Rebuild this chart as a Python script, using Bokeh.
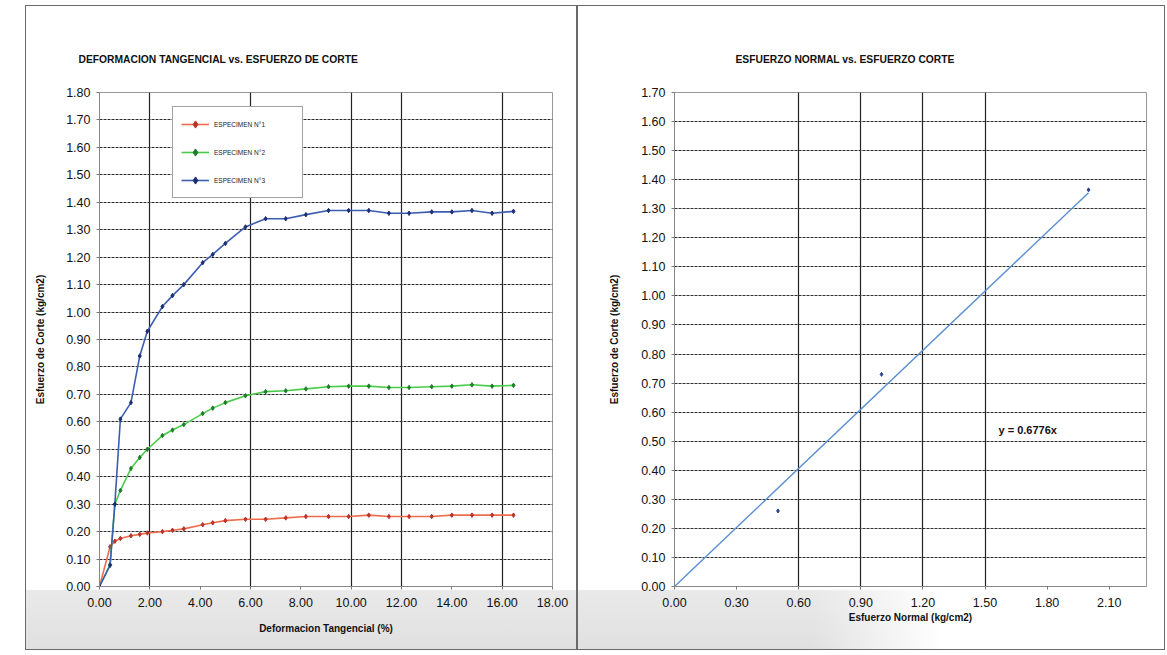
from bokeh.plotting import figure
from bokeh.layouts import row, column
from bokeh.models import (NumeralTickFormatter, FixedTicker, Legend, LegendItem,
                          Label, Spacer, Range1d)
from bokeh.embed import file_html
from bokeh.resources import INLINE

# ---------------- data ----------------
deform = [0, 0.42, 0.61, 0.83, 1.25, 1.6, 1.9, 2.5, 2.9, 3.35, 4.1, 4.5, 5.0, 5.8,
          6.6, 7.4, 8.2, 9.1, 9.9, 10.7, 11.5, 12.3, 13.2, 14.0, 14.8, 15.6, 16.45]
esp1 = [0, 0.145, 0.165, 0.175, 0.185, 0.19, 0.195, 0.20, 0.205, 0.21, 0.225, 0.232,
        0.24, 0.245, 0.245, 0.25, 0.255, 0.255, 0.255, 0.26, 0.255, 0.255, 0.255,
        0.26, 0.26, 0.26, 0.26]
esp2 = [0, 0.08, 0.30, 0.35, 0.43, 0.47, 0.50, 0.55, 0.57, 0.59, 0.63, 0.65, 0.67,
        0.695, 0.71, 0.713, 0.72, 0.728, 0.73, 0.73, 0.725, 0.725, 0.728, 0.73,
        0.735, 0.73, 0.733]
esp3 = [0, 0.077, 0.30, 0.61, 0.67, 0.84, 0.93, 1.02, 1.06, 1.10, 1.18, 1.21, 1.25,
        1.31, 1.34, 1.34, 1.355, 1.37, 1.37, 1.37, 1.36, 1.36, 1.365, 1.365, 1.37,
        1.36, 1.367]
series_names = ["ESPECIMEN N°1", "ESPECIMEN N°2", "ESPECIMEN N°3"]

normal = [0.5, 1.0, 2.0]
corte = [0.26, 0.73, 1.365]
slope = 0.6776

left_x_ticks = [0, 2, 4, 6, 8, 10, 12, 14, 16, 18]
left_y_ticks = [i / 10 for i in range(19)]
right_x_ticks = [0, 0.3, 0.6, 0.9, 1.2, 1.5, 1.8, 2.1]
right_y_ticks = [i / 10 for i in range(18)]
# vertical grid lines that are visible in the scanned chart
left_vgrid = [2, 6, 10, 12, 16]
right_vgrid = [0.6, 0.9, 1.2, 1.5]

# ---------------- style ----------------
FONT = "'Liberation Sans Narrow', 'Arial Narrow', 'Liberation Sans', sans-serif"
line_cols = ["#ee6d4c", "#49cc49", "#3c5db0"]
mark_cols = ["#b8332a", "#1f7d2a", "#1d2f72"]
H = 645


def style(p, xt, yt, vgrid):
    p.xaxis.ticker = FixedTicker(ticks=xt)
    p.yaxis.ticker = FixedTicker(ticks=yt)
    p.xaxis.formatter = NumeralTickFormatter(format="0.00")
    p.yaxis.formatter = NumeralTickFormatter(format="0.00")
    for ax in (p.xaxis[0], p.yaxis[0]):
        ax.major_label_text_font = FONT
        ax.major_label_text_font_size = "12.5px"
        ax.major_label_text_color = "#111111"
        ax.axis_label_text_font = FONT
        ax.axis_label_text_font_size = "10px"
        ax.axis_label_text_font_style = "bold"
        ax.axis_label_text_color = "#111111"
        ax.minor_tick_line_color = None
        ax.major_tick_in = 0
        ax.major_tick_out = 3
        ax.major_tick_line_color = "#777777"
        ax.axis_line_color = "#888888"
    p.xaxis.major_label_standoff = 8
    p.yaxis.major_label_standoff = 6
    p.ygrid.ticker = FixedTicker(ticks=yt)
    p.ygrid.grid_line_color = "#2e2e2e"
    p.ygrid.grid_line_dash = "3 1"
    p.ygrid.grid_line_width = 1.1
    p.xgrid.ticker = FixedTicker(ticks=vgrid)
    p.xgrid.grid_line_color = "#222222"
    p.xgrid.grid_line_width = 1.2
    p.outline_line_color = "#999999"
    p.background_fill_color = "white"
    p.border_fill_alpha = 0
    p.title.text_font = FONT
    p.title.text_font_size = "10.3px"
    p.title.text_font_style = "bold"
    p.title.text_color = "#111111"
    p.title.align = "left"
    p.title.standoff = 56


# ---------------- left chart ----------------
p1 = figure(width=552, height=H, output_backend="svg", toolbar_location=None,
            x_range=Range1d(0, 18), y_range=Range1d(0, 1.8),
            min_border_left=74, min_border_right=25, min_border_top=87,
            min_border_bottom=63,
            title="DEFORMACION TANGENCIAL vs. ESFUERZO DE CORTE",
            x_axis_label="Deformacion Tangencial (%)",
            y_axis_label="Esfuerzo de Corte (kg/cm2)")
style(p1, left_x_ticks, left_y_ticks, left_vgrid)
p1.title.offset = -21
p1.xaxis.axis_label_standoff = 13
p1.yaxis.axis_label_standoff = 17

items = []
for ys, lc, mc, nm in zip([esp1, esp2, esp3], line_cols, mark_cols, series_names):
    r1 = p1.line(deform, ys, line_color=lc, line_width=1.6)
    r2 = p1.scatter(deform, ys, marker="diamond", size=4.5, fill_color=mc,
                    line_color=mc)
    items.append(LegendItem(label=nm, renderers=[r1, r2]))

leg = Legend(items=items, location=(73, 388), orientation="vertical",
             label_text_font=FONT, label_text_font_size="6.5px",
             label_text_color="#222222", glyph_width=28, glyph_height=18,
             label_height=18, label_width=80, spacing=10, padding=8,
             margin=0, border_line_color="#444444", border_line_width=1,
             background_fill_color="white", background_fill_alpha=1)
p1.add_layout(leg, "center")
p1.styles = {"outline": "1px solid #6a6a6a", "outline-offset": "-1px",
             "background": "linear-gradient(180deg, #ffffff 0%, #ffffff 90.6%, "
                           "#e9e9e9 90.8%, #e0e0e0 100%)"}

# ---------------- right chart ----------------
p2 = figure(width=588, height=H, output_backend="svg", toolbar_location=None,
            x_range=Range1d(0, 2.28), y_range=Range1d(0, 1.7),
            min_border_left=97, min_border_right=19, min_border_top=86,
            min_border_bottom=64,
            title="ESFUERZO NORMAL vs. ESFUERZO CORTE",
            x_axis_label="Esfuerzo Normal (kg/cm2)",
            y_axis_label="Esfuerzo de Corte (kg/cm2)")
style(p2, right_x_ticks, right_y_ticks, right_vgrid)
p2.title.offset = 61
p2.xaxis.axis_label_standoff = 2
p2.yaxis.axis_label_standoff = 18

trend_x = [0, max(normal)]
trend_y = [slope * v for v in trend_x]
p2.line(trend_x, trend_y, line_color="#5b8fd0", line_width=1.4)
p2.scatter(normal, corte, marker="diamond", size=4, fill_color="#2a3f8a",
           line_color="#2a3f8a")
p2.add_layout(Label(x=1.565, y=0.54, text="y = 0.6776x", text_font=FONT,
                    text_font_size="11px", text_font_style="bold",
                    text_color="#111111", text_baseline="middle"))
p2.styles = {"outline": "1px solid #6a6a6a", "outline-offset": "-1px",
             "background": "linear-gradient(90deg, rgba(255,255,255,0) 0%, "
                           "rgba(255,255,255,0) 40%, #ffffff 62%), "
                           "linear-gradient(180deg, #ffffff 0%, #ffffff 90.6%, "
                           "#e9e9e9 90.8%, #e0e0e0 100%)"}

layout = column(Spacer(width=10, height=5),
                row(Spacer(width=25, height=H), p1, p2))
open("out.html", "w").write(file_html(layout, INLINE))
